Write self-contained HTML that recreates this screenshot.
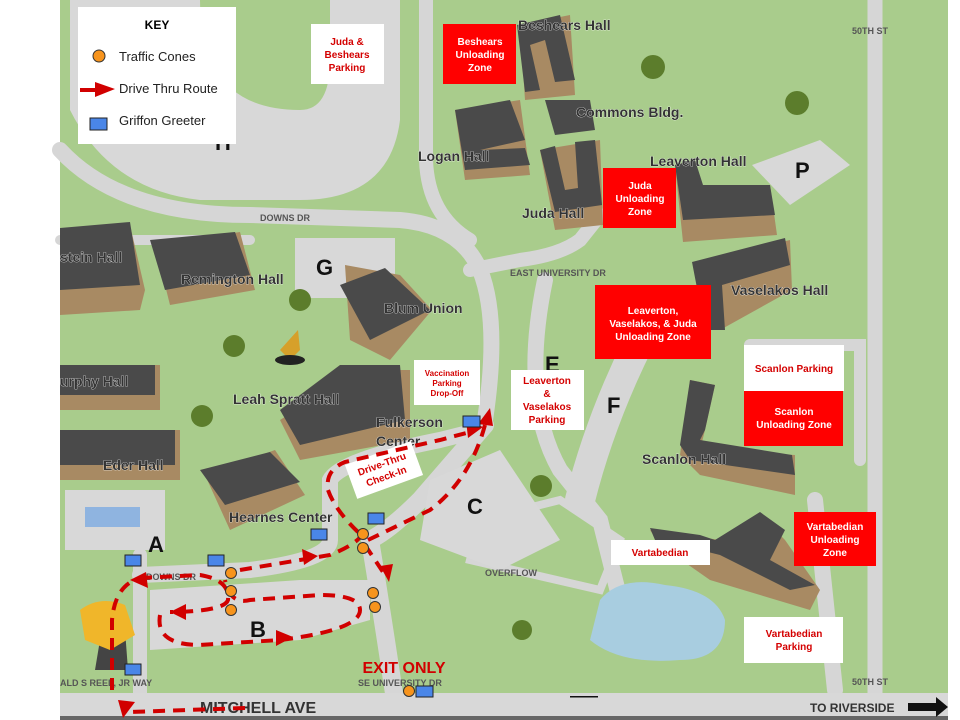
<!DOCTYPE html>
<html><head><meta charset="utf-8"><style>
html,body{margin:0;padding:0;background:#fff;}
svg{display:block;}
text{font-family:"Liberation Sans",sans-serif;}
.lbl{font-weight:bold;fill:#333;font-size:14px;stroke:#fff;stroke-width:0.6px;paint-order:stroke;}
.rd{font-weight:bold;fill:#555;font-size:9px;}
.wt{fill:#fff;font-weight:bold;font-size:10px;text-anchor:middle;}
.rt{fill:#d40000;font-weight:bold;font-size:10px;text-anchor:middle;}
</style></head><body>
<svg width="960" height="720" viewBox="0 0 960 720" xmlns="http://www.w3.org/2000/svg">
<rect width="960" height="720" fill="#fff"/>
<rect x="60" y="0" width="888" height="720" fill="#a9cc8c"/>
<!-- H lot -->
<path d="M70 0 L400 0 L400 120 Q390 200 300 200 L200 200 Q110 190 70 110 Z" fill="#d8d8d8"/>
<path d="M200 0 Q200 110 300 110 Q330 110 330 60 L330 0 Z" fill="#a9cc8c"/>
<g fill="none" stroke="#d6d6d6" stroke-linecap="round">
<path d="M60 150 Q120 215 250 215 L400 220 Q460 225 480 270 Q500 320 485 420" stroke-width="16"/>
<path d="M426 0 L426 160 Q428 215 470 240" stroke-width="14"/>
<path d="M470 270 L520 260 Q560 255 580 240 L600 215" stroke-width="14"/>
<path d="M875 0 L875 695" stroke-width="15"/>
<path d="M60 240 L250 240" stroke-width="10"/>
<path d="M480 430 L440 440 Q340 460 330 480 L330 540 Q330 560 250 570 L140 575" stroke-width="16"/>
<path d="M485 425 L420 500 Q390 530 370 540 Q380 600 395 700" stroke-width="18"/>
<path d="M140 555 L140 700" stroke-width="14"/>
<path d="M545 280 Q520 400 560 470 L600 520 L620 600" stroke-width="16"/>
<path d="M640 340 Q600 420 580 500" stroke-width="30"/>
<path d="M560 500 L480 520 L470 560 L600 590 L620 540 Z" stroke-width="8"/>
<path d="M750 345 L860 345 L860 460" stroke-width="12"/>
<path d="M815 500 L835 690" stroke-width="16"/>
</g>
<path d="M430 480 L500 450 L560 540 L500 570 L420 540 Z" fill="#d8d8d8"/>
<path d="M150 590 L300 580 L370 580 L370 620 L300 640 L150 650 Z" fill="#d8d8d8"/>
<rect x="65" y="490" width="100" height="60" fill="#d8d8d8"/>
<rect x="85" y="507" width="55" height="20" fill="#8fb4e0"/>
<rect x="295" y="238" width="100" height="60" fill="#d8d8d8"/>
<path d="M752 165 L820 140 L850 165 L790 205 Z" fill="#d8d8d8"/>
<rect x="60" y="693" width="888" height="25" fill="#d8d8d8"/>
<rect x="60" y="716" width="888" height="4" fill="#666"/>
<path d="M600 600 Q620 575 665 585 Q715 590 725 620 Q725 660 680 660 Q620 665 590 640 Z" fill="#a8cde0"/>
<g>
<path d="M60 235 L130 225 L145 290 L140 310 L60 315 Z" fill="#a88a63"/>
<path d="M60 228 L130 222 L140 285 L60 290 Z" fill="#4a4a4a"/>
<path d="M155 245 L240 232 L255 290 L170 305 Z" fill="#a88a63"/>
<path d="M150 240 L235 232 L250 275 L165 290 Z" fill="#4a4a4a"/>
<path d="M345 265 L400 275 L432 310 L390 360 L350 340 Z" fill="#a88a63"/>
<path d="M340 285 L385 268 L430 310 L370 340 Z" fill="#4a4a4a"/>
<path d="M280 420 L360 370 L410 370 L410 440 L300 460 Z" fill="#a88a63"/>
<path d="M280 410 L340 365 L400 365 L405 420 L300 445 Z" fill="#4a4a4a"/>
<path d="M60 430 L180 430 L180 480 L60 480 Z" fill="#a88a63"/>
<path d="M60 430 L175 430 L175 465 L60 465 Z" fill="#4a4a4a"/>
<path d="M60 365 L160 365 L160 410 L60 410 Z" fill="#a88a63"/>
<path d="M60 365 L155 365 L155 395 L60 395 Z" fill="#4a4a4a"/>
<path d="M205 475 L275 450 L305 495 L230 530 Z" fill="#a88a63"/>
<path d="M200 470 L270 452 L300 482 L225 505 Z" fill="#4a4a4a"/>
<path d="M455 110 L520 100 L530 175 L465 180 Z" fill="#a88a63"/>
<path d="M455 110 L510 100 L525 140 L480 150 L525 148 L530 165 L465 170 Z" fill="#4a4a4a"/>
<path d="M520 25 L570 15 L575 95 L525 100 Z" fill="#a88a63"/>
<path d="M517 25 L560 15 L575 80 L555 82 L545 40 L530 45 L540 90 L525 92 Z" fill="#4a4a4a"/>
<path d="M545 100 L590 100 L595 130 L555 135 Z" fill="#4a4a4a"/>
<path d="M540 150 L600 140 L603 225 L555 230 Z" fill="#a88a63"/>
<path d="M540 150 L555 146 L565 190 L578 188 L575 142 L595 140 L602 205 L555 212 Z" fill="#4a4a4a"/>
<path d="M675 165 L695 160 L700 185 L770 185 L777 235 L683 242 Z" fill="#a88a63"/>
<path d="M675 165 L695 160 L703 185 L770 185 L775 215 L683 220 Z" fill="#4a4a4a"/>
<path d="M695 262 L790 240 L792 290 L720 330 L705 330 Z" fill="#a88a63"/>
<path d="M692 262 L785 238 L790 265 L722 285 L725 330 L705 330 Z" fill="#4a4a4a"/>
<path d="M690 380 L715 385 L705 430 L700 450 L795 455 L795 495 L700 475 L680 455 Z" fill="#a88a63"/>
<path d="M690 380 L715 385 L705 430 L700 440 L792 455 L795 475 L690 460 L680 445 Z" fill="#4a4a4a"/>
<path d="M650 530 L720 540 L760 515 L785 540 L820 590 L810 610 L710 580 L660 545 Z" fill="#a88a63"/>
<path d="M650 528 L700 535 L715 540 L760 512 L785 530 L770 560 L815 585 L790 590 L720 555 L700 550 L655 540 Z" fill="#4a4a4a"/>
<path d="M100 640 L125 630 L128 670 L95 670 Z" fill="#444"/>
<path d="M80 610 Q100 595 125 605 L135 635 L110 650 L85 640 Z" fill="#f0b62a"/>
<path d="M280 350 L298 330 L300 350 L290 360 Z" fill="#d6a02a"/>
<ellipse cx="290" cy="360" rx="15" ry="5" fill="#222"/>
</g>
<g fill="#5c7d2c"><circle cx="653" cy="67" r="12"/><circle cx="797" cy="103" r="12"/><circle cx="300" cy="300" r="11"/><circle cx="234" cy="346" r="11"/><circle cx="202" cy="416" r="11"/><circle cx="541" cy="486" r="11"/><circle cx="522" cy="630" r="10"/><circle cx="181" cy="30" r="10"/></g>
<text class="lbl" x="518" y="30">Beshears Hall</text>
<text class="lbl" x="576" y="117">Commons Bldg.</text>
<text class="lbl" x="418" y="161">Logan Hall</text>
<text class="lbl" x="650" y="166">Leaverton Hall</text>
<text class="lbl" x="522" y="218">Juda Hall</text>
<text class="lbl" x="60" y="262">stein Hall</text>
<text class="lbl" x="181" y="284">Remington Hall</text>
<text class="lbl" x="384" y="313">Blum Union</text>
<text class="lbl" x="731" y="295">Vaselakos Hall</text>
<text class="lbl" x="60" y="386">urphy Hall</text>
<text class="lbl" x="233" y="404">Leah Spratt Hall</text>
<text class="lbl" x="376" y="427">Fulkerson</text>
<text class="lbl" x="376" y="446">Center</text>
<text class="lbl" x="103" y="470">Eder Hall</text>
<text class="lbl" x="642" y="464">Scanlon Hall</text>
<text class="lbl" x="229" y="522">Hearnes Center</text>
<text class="rd" x="260" y="221">DOWNS DR</text>
<text class="rd" x="510" y="276">EAST UNIVERSITY DR</text>
<text class="rd" x="852" y="34">50TH ST</text>
<text class="rd" x="852" y="685">50TH ST</text>
<text class="rd" x="146" y="580">DOWNS DR</text>
<text class="rd" x="485" y="576">OVERFLOW</text>
<text class="rd" x="60" y="686">ALD S REEL, JR WAY</text>
<text class="rd" x="358" y="686">SE UNIVERSITY DR</text>
<text x="200" y="713" style="font-weight:bold;font-size:16px;fill:#333">MITCHELL AVE</text>
<text x="810" y="712" style="font-weight:bold;font-size:12px;fill:#333">TO RIVERSIDE</text>
<path d="M908 703 L936 703 L936 697 L948 707 L936 717 L936 711 L908 711 Z" fill="#111"/>
<g style="font-weight:bold;font-size:22px;fill:#111;font-family:'Liberation Sans',sans-serif">
<text x="316" y="275">G</text><text x="545" y="372">E</text><text x="607" y="413">F</text><text x="467" y="514">C</text><text x="148" y="552">A</text><text x="250" y="637">B</text><text x="795" y="178">P</text><text x="215" y="150">H</text>
</g>
<rect x="78" y="7" width="158" height="137" fill="#fff"/>
<text x="157" y="29" style="font-weight:bold;font-size:12px;text-anchor:middle">KEY</text>
<circle cx="99" cy="56" r="6" fill="#f7941d" stroke="#333"/>
<text x="119" y="61" style="font-size:13px;fill:#222">Traffic Cones</text>
<path d="M80 88 L95 88 L95 82 L115 89 L95 97 L95 92 L80 92 Z" fill="#d10000"/>
<text x="119" y="93" style="font-size:13px;fill:#222">Drive Thru Route</text>
<rect x="90" y="118" width="17" height="12" fill="#4a86e8" stroke="#222"/>
<text x="119" y="125" style="font-size:13px;fill:#222">Griffon Greeter</text>
<rect x="311" y="24" width="73" height="60" fill="#fff"/>
<text class="rt" x="347" y="45">Juda &amp;</text><text class="rt" x="347" y="58">Beshears</text><text class="rt" x="347" y="71">Parking</text>
<rect x="443" y="24" width="73" height="60" fill="#f00"/>
<text class="wt" x="480" y="45">Beshears</text><text class="wt" x="480" y="58">Unloading</text><text class="wt" x="480" y="71">Zone</text>
<rect x="603" y="168" width="73" height="60" fill="#f00"/>
<text class="wt" x="640" y="189">Juda</text><text class="wt" x="640" y="202">Unloading</text><text class="wt" x="640" y="215">Zone</text>
<rect x="595" y="285" width="116" height="74" fill="#f00"/>
<text class="wt" x="653" y="314">Leaverton,</text><text class="wt" x="653" y="327">Vaselakos, &amp; Juda</text><text class="wt" x="653" y="340">Unloading Zone</text>
<rect x="414" y="360" width="66" height="45" fill="#fff"/>
<text class="rt" x="447" y="376" style="font-size:8px">Vaccination</text><text class="rt" x="447" y="386" style="font-size:8px">Parking</text><text class="rt" x="447" y="396" style="font-size:8px">Drop-Off</text>
<rect x="511" y="370" width="73" height="60" fill="#fff"/>
<text class="rt" x="547" y="384">Leaverton</text><text class="rt" x="547" y="397">&amp;</text><text class="rt" x="547" y="410">Vaselakos</text><text class="rt" x="547" y="423">Parking</text>
<rect x="744" y="345" width="100" height="46" fill="#fff"/>
<text class="rt" x="794" y="372">Scanlon Parking</text>
<rect x="744" y="391" width="99" height="55" fill="#f00"/>
<text class="wt" x="794" y="415">Scanlon</text><text class="wt" x="794" y="428">Unloading Zone</text>
<rect x="794" y="512" width="82" height="54" fill="#f00"/>
<text class="wt" x="835" y="530">Vartabedian</text><text class="wt" x="835" y="543">Unloading</text><text class="wt" x="835" y="556">Zone</text>
<rect x="611" y="540" width="99" height="25" fill="#fff"/>
<text class="rt" x="660" y="556">Vartabedian</text>
<rect x="744" y="617" width="99" height="46" fill="#fff"/>
<text class="rt" x="794" y="637">Vartabedian</text><text class="rt" x="794" y="650">Parking</text>
<g transform="rotate(-20 384 470)"><rect x="349" y="452" width="70" height="36" fill="#fff"/>
<text class="rt" x="384" y="467">Drive-Thru</text><text class="rt" x="384" y="480">Check-In</text></g>
<text x="404" y="673" style="font-weight:bold;font-size:16px;fill:#d10000;text-anchor:middle">EXIT ONLY</text>
<g fill="none" stroke="#d10000" stroke-width="4" stroke-dasharray="12 8">
<path d="M245 708 L130 712"/>
<path d="M112 690 L112 620 Q115 585 140 578"/>
<path d="M140 578 L200 575 Q230 580 228 600 Q225 610 180 612 L170 612"/>
<path d="M160 615 Q155 645 200 645 L280 640 Q360 630 360 610 Q360 595 320 595 L250 600 Q230 605 225 580"/>
<path d="M240 570 L330 555 Q355 545 362 535"/>
<path d="M358 532 Q335 510 328 490 Q325 470 345 462 L440 440 L470 432"/>
<path d="M368 540 L430 510 Q470 480 485 425"/>
<path d="M365 545 L385 575"/>
</g>
<g fill="#d10000">
<path d="M118 700 L135 702 L123 718 Z"/>
<path d="M130 580 L146 572 L148 588 Z"/>
<path d="M170 612 L186 604 L186 620 Z"/>
<path d="M293 637 L276 630 L276 646 Z"/>
<path d="M318 556 L302 549 L304 565 Z"/>
<path d="M483 427 L466 420 L468 438 Z"/>
<path d="M490 408 L478 424 L493 426 Z"/>
<path d="M389 582 L380 566 L393 564 Z"/>
</g>
<g fill="#f7941d" stroke="#333" stroke-width="1">
<circle cx="231" cy="573" r="5.5"/><circle cx="231" cy="591" r="5.5"/><circle cx="231" cy="610" r="5.5"/>
<circle cx="363" cy="534" r="5.5"/><circle cx="363" cy="548" r="5.5"/>
<circle cx="373" cy="593" r="5.5"/><circle cx="375" cy="607" r="5.5"/>
<circle cx="409" cy="691" r="5.5"/>
</g>
<g fill="#4a86e8" stroke="#222" stroke-width="1">
<rect x="125" y="555" width="16" height="11"/><rect x="208" y="555" width="16" height="11"/>
<rect x="311" y="529" width="16" height="11"/><rect x="368" y="513" width="16" height="11"/>
<rect x="125" y="664" width="16" height="11"/><rect x="416" y="686" width="17" height="11"/>
<rect x="463" y="416" width="17" height="11"/>
</g>
<rect x="570" y="696" width="28" height="1.5" fill="#111"/>
</svg>
</body></html>
